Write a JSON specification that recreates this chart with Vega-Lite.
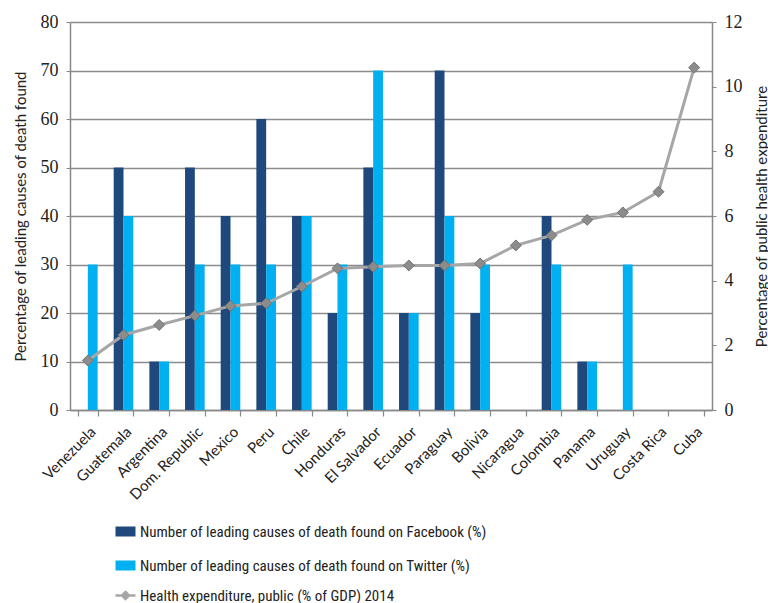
{
  "$schema": "https://vega.github.io/schema/vega-lite/v6.json",
  "autosize": {"type": "none"},
  "width": 642,
  "height": 388,
  "padding": {"left": 70, "top": 22, "right": 56, "bottom": 193},
  "background": "white",
  "config": {
    "view": {"stroke": null},
    "font": "Lato"
  },
  "data": {
    "values": [
      {"country": "Venezuela", "facebook": 0, "twitter": 30, "health": 1.53},
      {"country": "Guatemala", "facebook": 50, "twitter": 40, "health": 2.32},
      {"country": "Argentina", "facebook": 10, "twitter": 10, "health": 2.63},
      {"country": "Dom. Republic", "facebook": 50, "twitter": 30, "health": 2.92},
      {"country": "Mexico", "facebook": 40, "twitter": 30, "health": 3.22},
      {"country": "Peru", "facebook": 60, "twitter": 30, "health": 3.3},
      {"country": "Chile", "facebook": 40, "twitter": 40, "health": 3.82},
      {"country": "Honduras", "facebook": 20, "twitter": 30, "health": 4.38},
      {"country": "El Salvador", "facebook": 50, "twitter": 70, "health": 4.43},
      {"country": "Ecuador", "facebook": 20, "twitter": 20, "health": 4.47},
      {"country": "Paraguay", "facebook": 70, "twitter": 40, "health": 4.47},
      {"country": "Bolivia", "facebook": 20, "twitter": 30, "health": 4.53},
      {"country": "Nicaragua", "facebook": 0, "twitter": 0, "health": 5.09},
      {"country": "Colombia", "facebook": 40, "twitter": 30, "health": 5.4},
      {"country": "Panama", "facebook": 10, "twitter": 10, "health": 5.88},
      {"country": "Uruguay", "facebook": 0, "twitter": 30, "health": 6.11},
      {"country": "Costa Rica", "facebook": 0, "twitter": 0, "health": 6.75},
      {"country": "Cuba", "facebook": 0, "twitter": 0, "health": 10.59}
    ]
  },
  "layer": [
    {
      "transform": [{"fold": ["facebook", "twitter"], "as": ["series", "value"]}],
      "mark": {"type": "bar"},
      "encoding": {
        "x": {
          "field": "country", "type": "nominal", "sort": null,
          "scale": {"paddingInner": 0.45, "paddingOuter": 0.225},
          "axis": {
            "title": null,
            "labelAngle": -45,
            "labelFont": "Lato",
            "labelFontSize": 15,
            "labelColor": "#222222",
            "labelPadding": 8,
            "tickBand": "extent",
            "tickSize": 6,
            "tickColor": "#888888",
            "tickWidth": 1.2,
            "domainColor": "#888888",
            "domainWidth": 1.5,
            "grid": false
          }
        },
        "xOffset": {"field": "series", "type": "nominal", "sort": ["facebook", "twitter"]},
        "y": {
          "field": "value", "type": "quantitative",
          "scale": {"domain": [0, 80]},
          "axis": {
            "title": "Percentage of leading causes of death found",
            "titleFont": "Lato",
            "titleFontSize": 15,
            "titleFontWeight": "normal",
            "titleColor": "#222222",
            "titlePadding": 12,
            "values": [0, 10, 20, 30, 40, 50, 60, 70, 80],
            "labelFont": "Liberation Serif",
            "labelFontSize": 18,
            "labelColor": "#222222",
            "labelPadding": 8,
            "tickSize": 4,
            "tickColor": "#888888",
            "domainColor": "#888888",
            "domainWidth": 1.5,
            "grid": true,
            "gridColor": "#8c8c8c",
            "gridWidth": 1.3
          }
        },
        "color": {
          "field": "series", "type": "nominal",
          "scale": {"domain": ["facebook", "twitter"], "range": ["#1F497D", "#00B0F0"]},
          "legend": {
            "orient": "none",
            "legendX": 48,
            "legendY": 502,
            "direction": "vertical",
            "title": null,
            "symbolType": "M-2,-1H2V1H-2Z",
            "symbolSize": 100,
            "symbolStrokeWidth": 0,
            "labelFont": "Liberation Sans Narrow, Roboto Condensed, Lato",
            "labelFontSize": 15,
            "labelColor": "#222222",
            "labelOffset": 7,
            "labelLimit": 600,
            "rowPadding": 18,
            "labelExpr": "datum.label == 'facebook' ? 'Number of leading causes of death found on Facebook (%)' : 'Number of leading causes of death found on Twitter (%)'"
          }
        }
      }
    },
    {
      "mark": {"type": "line", "color": "#A6A6A6", "strokeWidth": 3},
      "encoding": {
        "x": {"field": "country", "type": "nominal", "sort": null},
        "y": {
          "field": "health", "type": "quantitative",
          "scale": {"domain": [0, 12]},
          "axis": {
            "orient": "right",
            "title": "Percentage of public health expenditure",
            "titleFont": "Lato",
            "titleFontSize": 15,
            "titleFontWeight": "normal",
            "titleColor": "#222222",
            "titleAngle": 270,
            "titleBaseline": "top",
            "titlePadding": 12,
            "values": [0, 2, 4, 6, 8, 10, 12],
            "labelFont": "Liberation Serif",
            "labelFontSize": 18,
            "labelColor": "#222222",
            "labelPadding": 8,
            "tickSize": 4,
            "tickColor": "#888888",
            "domainColor": "#888888",
            "domainWidth": 1.5,
            "grid": false
          }
        },
        "stroke": {
          "datum": "Health expenditure, public (% of GDP) 2014",
          "scale": {"range": ["#A6A6A6"]},
          "legend": {
            "orient": "none",
            "legendX": 48,
            "legendY": 566,
            "title": null,
            "symbolType": "M-2,0H2M0,-0.7L0.7,0L0,0.7L-0.7,0Z",
            "symbolSize": 100,
            "symbolStrokeWidth": 2.5,
            "symbolFillColor": "#8C8C8C",
            "labelFont": "Liberation Sans Narrow, Roboto Condensed, Lato",
            "labelFontSize": 15,
            "labelColor": "#222222",
            "labelOffset": 7,
            "labelLimit": 600
          }
        }
      }
    },
    {
      "mark": {"type": "point", "shape": "diamond", "filled": true, "fill": "#8C8C8C", "stroke": "#737373", "strokeWidth": 1, "size": 120, "opacity": 1},
      "encoding": {
        "x": {"field": "country", "type": "nominal", "sort": null},
        "y": {"field": "health", "type": "quantitative", "scale": {"domain": [0, 12]}, "axis": null}
      }
    }
  ],
  "resolve": {"scale": {"y": "independent"}}
}
